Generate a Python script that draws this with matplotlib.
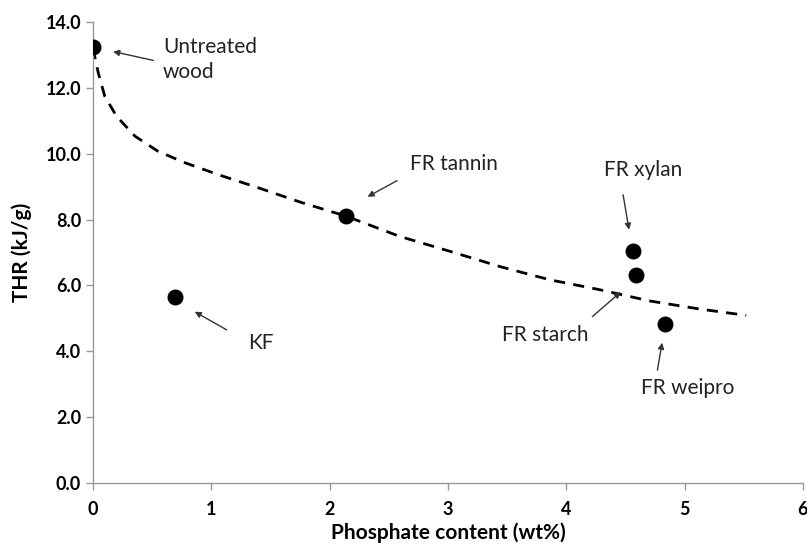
import matplotlib.pyplot as plt

plt.rcParams['font.family'] = ['Lato', 'DejaVu Sans']

# 数据点
labels = ["Untreated\nwood", "KF", "FR tannin", "FR xylan", "FR starch", "FR weipro"]
phosphate = [0.0, 0.69, 2.14, 4.56, 4.59, 4.83]
thr = [13.25, 5.65, 8.1, 7.03, 6.30, 4.82]

# 趋势线
trend_x = [0, 0.045, 0.10, 0.20, 0.355, 0.55, 0.78, 1.06, 1.40, 1.75, 2.14,
           2.59, 3.02, 3.44, 3.86, 4.28, 4.70, 5.13, 5.52]
trend_y = [13.2, 12.45, 11.74, 11.13, 10.53, 10.07, 9.72, 9.36, 8.96, 8.53, 8.1,
           7.49, 7.03, 6.57, 6.17, 5.87, 5.53, 5.28, 5.09]

# 标注位置：文字位置和箭头位置
text_pos = [(0.59, 12.85), (1.31, 4.26), (2.68, 9.67), (4.65, 9.51), (3.82, 4.5), (5.03, 2.89)]
text_ha = ['left', 'left', 'left', 'center', 'center', 'center']
arrow_tail = [(0.51, 12.83), (1.13, 4.65), (2.57, 9.18), (4.48, 8.75), (4.22, 5.05), (4.77, 3.43)]
arrow_head = [(0.17, 13.1), (0.86, 5.2), (2.32, 8.69), (4.53, 7.69), (4.46, 5.8), (4.81, 4.26)]

fig = plt.figure(figsize=(8.07, 5.47), dpi=100)
ax = fig.add_axes([0.1152, 0.117, 0.8798, 0.843])

ax.plot(trend_x, trend_y, color='black', linestyle=(0, (4, 3)), linewidth=2, zorder=2)
ax.scatter(phosphate, thr, s=110, color='black', zorder=3)

for i in range(len(labels)):
    ax.text(text_pos[i][0], text_pos[i][1], labels[i], ha=text_ha[i], va='center',
            fontsize=15, color='#222222', linespacing=1.3)
    ax.annotate('', xy=arrow_head[i], xytext=arrow_tail[i],
                arrowprops=dict(arrowstyle='-|>', color='#333333', lw=1,
                                mutation_scale=9, shrinkA=0, shrinkB=0))

ax.set_xlim(0, 6)
ax.set_ylim(0, 14)
ax.set_xticks(range(0, 7))
ax.set_yticks([0, 2, 4, 6, 8, 10, 12, 14])
ax.set_yticklabels([f"{v:.1f}" for v in [0, 2, 4, 6, 8, 10, 12, 14]])

for s in ['top', 'right']:
    ax.spines[s].set_visible(False)
for s in ['left', 'bottom']:
    ax.spines[s].set_color('#999999')
    ax.spines[s].set_linewidth(1)

ax.tick_params(axis='both', colors='#999999', labelcolor='black', labelsize=13,
               length=5, width=1, direction='out')
for lab in ax.get_xticklabels() + ax.get_yticklabels():
    lab.set_fontweight('bold')
ax.tick_params(axis='x', pad=8)

ax.set_xlabel("Phosphate content (wt%)", fontsize=15, fontweight='bold', labelpad=3)
ax.set_ylabel("THR (kJ/g)", fontsize=15, fontweight='bold', labelpad=10)

fig.savefig('out.png', dpi=100)
